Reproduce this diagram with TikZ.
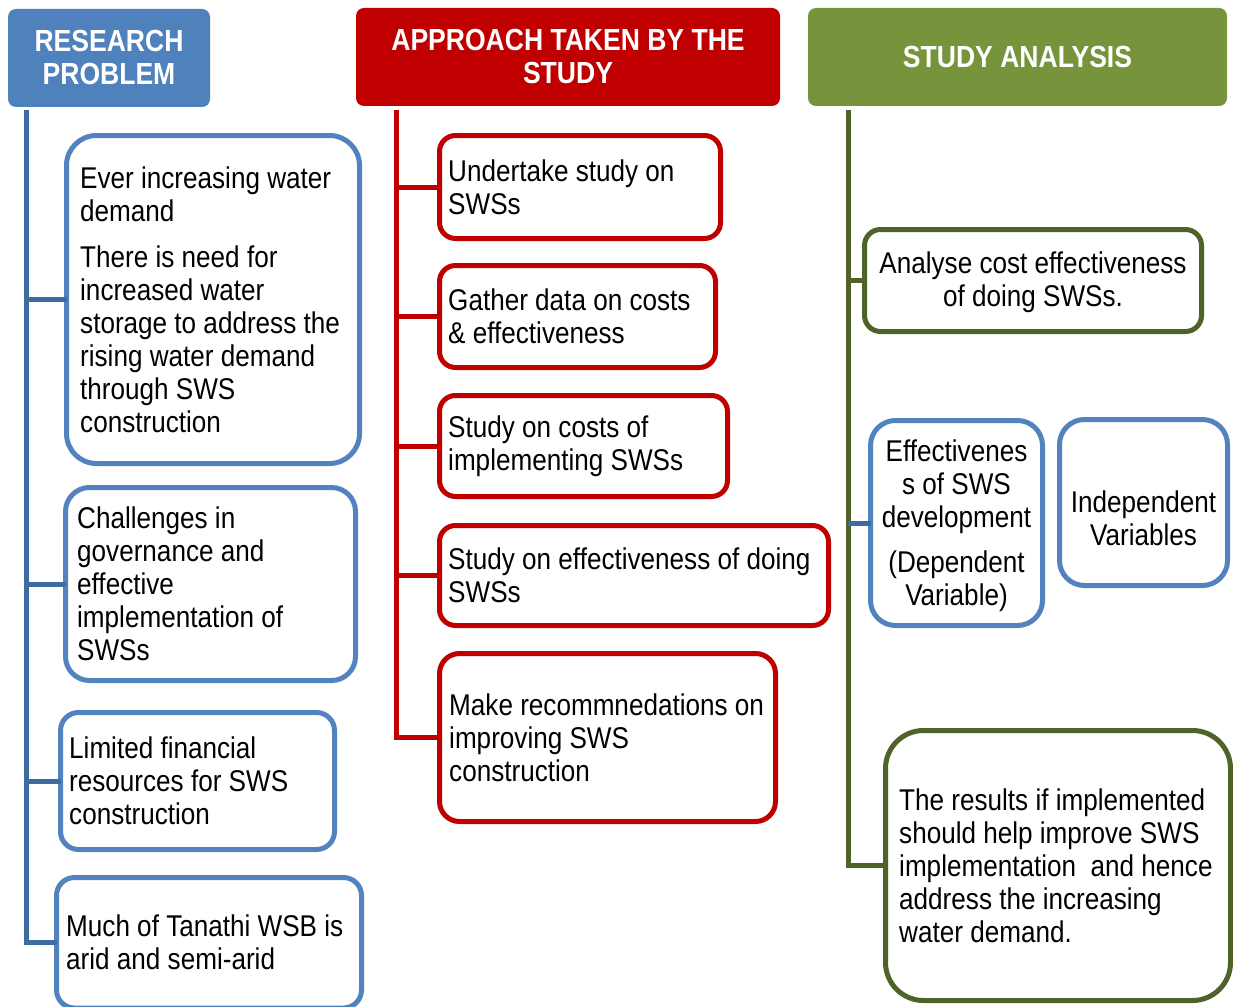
\documentclass[tikz,border=0pt]{standalone}
\usepackage{fontspec}
\setmainfont[FakeStretch=0.87]{Liberation Sans}
\definecolor{hblue}{HTML}{4F81BD}
\definecolor{bblue}{HTML}{5283BF}
\definecolor{tblue}{HTML}{3F6C9E}
\definecolor{hred}{HTML}{C00000}
\definecolor{hgreen}{HTML}{77933C}
\definecolor{dgreen}{HTML}{4F6228}
\newcommand{\bodyfont}{\fontsize{30}{33}\selectfont}
\newcommand{\headfont}{\fontsize{30.5}{33}\selectfont\bfseries}
\begin{document}
\begin{tikzpicture}[x=1pt,y=-1pt,
  header/.style={rounded corners=8pt, inner sep=0pt, outer sep=0pt, text=white, font=\headfont, align=center, anchor=north west},
  box/.style={draw, line width=5pt, fill=white, inner sep=0pt, outer sep=0pt, anchor=north west},
  txt/.style={inner sep=0pt, font=\bodyfont, align=left, anchor=west},
  ctxt/.style={inner sep=0pt, font=\bodyfont, align=center},
  link/.style={line width=5pt},
]
\useasboundingbox (0,0) rectangle (1233,1006);

% headers
\node[header, fill=hblue, minimum width=202pt, minimum height=98pt] (hRP) at (8,9) {RESEARCH\\PROBLEM};
\node[header, fill=hred, minimum width=424pt, minimum height=98pt] (hAP) at (356,8) {APPROACH TAKEN BY THE\\STUDY};
\node[header, fill=hgreen, minimum width=419pt, minimum height=98pt] (hSA) at (808,8) {STUDY ANALYSIS};

% trunk start points
\coordinate (tl) at (26.5,110);
\coordinate (tm) at (396,110);
\coordinate (tr) at (848,110);

% left boxes
\node[box, draw=bblue, rounded corners=30pt, minimum width=293pt, minimum height=328pt] (b1) at (66.5,135.5) {};
\node[box, draw=bblue, rounded corners=24pt, minimum width=290pt, minimum height=193pt] (b2) at (65.5,487.5) {};
\node[box, draw=bblue, rounded corners=18pt, minimum width=274pt, minimum height=137pt] (b3) at (60.5,712.5) {};
\node[box, draw=bblue, rounded corners=18pt, minimum width=305pt, minimum height=130.5pt] (b4) at (56.5,877.5) {};

% middle boxes
\node[box, draw=hred, rounded corners=16pt, minimum width=281pt, minimum height=103pt] (m1) at (439.5,135.5) {};
\node[box, draw=hred, rounded corners=16pt, minimum width=276pt, minimum height=102pt] (m2) at (439.5,265.5) {};
\node[box, draw=hred, rounded corners=16pt, minimum width=288pt, minimum height=101pt] (m3) at (439.5,395.5) {};
\node[box, draw=hred, rounded corners=16pt, minimum width=389pt, minimum height=100pt] (m4) at (439.5,525.5) {};
\node[box, draw=hred, rounded corners=20pt, minimum width=336pt, minimum height=168pt] (m5) at (439.5,653.5) {};

% right boxes
\node[box, draw=dgreen, rounded corners=16pt, minimum width=337pt, minimum height=102pt] (r1) at (864.5,229.5) {};
\node[box, draw=bblue, rounded corners=25pt, minimum width=172pt, minimum height=205pt] (r2) at (870.5,420.5) {};
\node[box, draw=bblue, rounded corners=25pt, minimum width=168pt, minimum height=166pt] (r3) at (1059.5,419.5) {};
\node[box, draw=dgreen, rounded corners=38pt, minimum width=345pt, minimum height=270pt] (r4) at (885.5,730.5) {};

% trunks and connectors
\draw[link, tblue] (tl) -- (tl |- b4.west) -- (b4.west);
\foreach \b in {b1,b2,b3} \draw[link, tblue] (tl |- \b.west) -- (\b.west);
\draw[link, hred] (tm) -- (tm |- m5.west) -- (m5.west);
\foreach \b in {m1,m2,m3,m4} \draw[link, hred] (tm |- \b.west) -- (\b.west);
\draw[link, dgreen] (tr) -- (tr |- r4.west) -- (r4.west);
\draw[link, dgreen] (tr |- r1.west) -- (r1.west);
\draw[link, tblue] (tr |- r2.west) -- (r2.west);

% texts
\node[txt] (t1) at ([xshift=13.5pt]b1.west) {Ever increasing water\\demand\\[13pt]There is need for\\increased water\\storage to address the\\rising water demand\\through SWS\\construction};
\node[txt] (t2) at ([xshift=11.5pt]b2.west) {Challenges in\\governance and\\effective\\implementation of\\SWSs};
\node[txt] (t3) at ([xshift=8.5pt]b3.west) {Limited financial\\resources for SWS\\construction};
\node[txt] (t4) at ([xshift=9.5pt]b4.west) {Much of Tanathi WSB is\\arid and semi-arid};

\node[txt] (tm1) at ([xshift=8.5pt]m1.west) {Undertake study on\\SWSs};
\node[txt] (tm2) at ([xshift=8.5pt]m2.west) {Gather data on costs\\\& effectiveness};
\node[txt] (tm3) at ([xshift=8.5pt]m3.west) {Study on costs of\\implementing SWSs};
\node[txt] (tm4) at ([xshift=8.5pt]m4.west) {Study on effectiveness of doing\\SWSs};
\node[txt] (tm5) at ([xshift=9.5pt]m5.west) {Make recommnedations on\\improving SWS\\construction};

\node[ctxt] (tr1) at ([yshift=-2pt]r1.center) {Analyse cost effectiveness\\of doing SWSs.};
\node[ctxt] (tr2) at ([yshift=-3pt]r2.center) {Effectivenes\\s of SWS\\development\\[12pt](Dependent\\Variable)};
\node[ctxt] (tr3) at ([yshift=-16pt]r3.center) {Independent\\Variables};
\node[txt] (tr4) at ([xshift=13.5pt]r4.west) {The results if implemented\\should help improve SWS\\implementation\ \ and hence\\address the increasing\\water demand.};
\end{tikzpicture}
\end{document}
